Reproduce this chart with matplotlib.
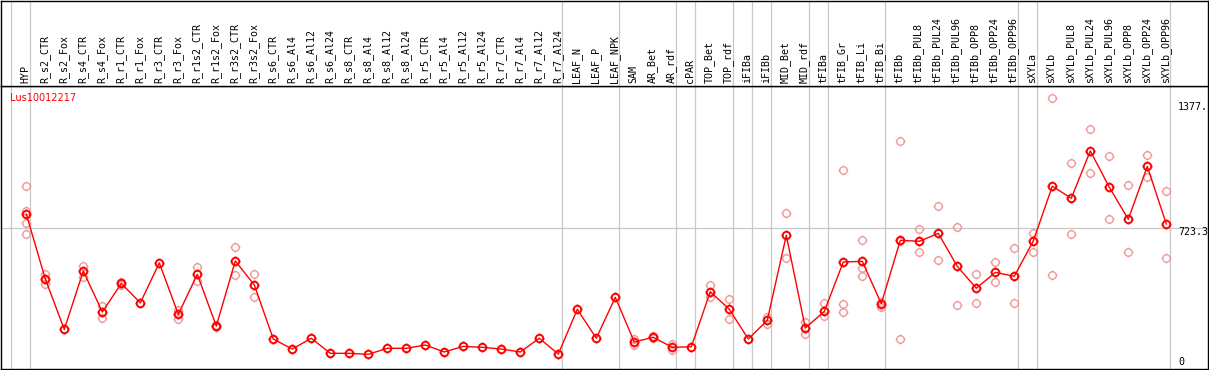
import matplotlib
matplotlib.use("Agg")
import matplotlib.pyplot as plt
from matplotlib.path import Path
import numpy as np

# ---------------- data ----------------
gene = "Lus10012217"
samples = ["HYP", "R_s2_CTR", "R_s2_Fox", "R_s4_CTR", "R_s4_Fox", "R_r1_CTR", "R_r1_Fox",
           "R_r3_CTR", "R_r3_Fox", "R_r1s2_CTR", "R_r1s2_Fox", "R_r3s2_CTR", "R_r3s2_Fox",
           "R_s6_CTR", "R_s6_Al4", "R_s6_Al12", "R_s6_Al24", "R_s8_CTR", "R_s8_Al4",
           "R_s8_Al12", "R_s8_Al24", "R_r5_CTR", "R_r5_Al4", "R_r5_Al12", "R_r5_Al24",
           "R_r7_CTR", "R_r7_Al4", "R_r7_Al12", "R_r7_Al24", "LEAF_N", "LEAF_P", "LEAF_NPK",
           "SAM", "AR_Bet", "AR_rdf", "cPAR", "TOP_Bet", "TOP_rdf", "iFIBa", "iFIBb",
           "MID_Bet", "MID_rdf", "tFIBa", "tFIB_Gr", "tFIB_Li", "tFIB_Bi", "tFIBb",
           "tFIBb_PUL8", "tFIBb_PUL24", "tFIBb_PUL96", "tFIBb_OPP8", "tFIBb_OPP24",
           "tFIBb_OPP96", "sXYLa", "sXYLb", "sXYLb_PUL8", "sXYLb_PUL24", "sXYLb_PUL96",
           "sXYLb_OPP8", "sXYLb_OPP24", "sXYLb_OPP96"]

means = [797, 461, 200, 502, 290, 438, 337, 544, 278, 485, 217, 554, 430,
         150, 98, 154, 76, 76, 71, 102, 102, 119, 83, 112, 107, 98, 83, 154, 72,
         304, 154, 366, 135, 159, 107, 110, 395, 304, 150, 247, 687, 207, 293,
         549, 552, 333, 661, 656, 697, 526, 413, 495, 475, 658, 941, 879, 1124,
         936, 770, 1044, 746]

replicates = [[942, 813, 749, 692], [485, 433], [], [528, 473], [321, 257], [447, 430], [],
              [], [300, 255], [523, 452], [222, 212], [626, 481], [485, 366],
              [], [], [], [], [], [], [], [], [], [], [], [], [], [], [], [],
              [], [], [], [150, 119], [164, 154], [126, 92], [], [430, 366], [356, 252],
              [], [266, 228], [801, 568], [238, 174], [335, 269],
              [1023, 330, 288], [661, 516, 475], [343, 317], [1175, 658, 150],
              [718, 599], [837, 558], [728, 325], [485, 335], [549, 444], [620, 335],
              [697, 599], [1396, 482], [1060, 692], [1236, 1008], [1096, 770],
              [946, 599], [1103, 987], [916, 568]]

group_ends = [-1, 0, 28, 31, 34, 35, 37, 38, 39, 41, 42, 45, 52, 53, 60]
axis_labels = ["1377.", "723.3", "0"]

# ---------------- layout ----------------
W, H = 1209, 370
fig = plt.figure(figsize=(W / 100, H / 100), dpi=100)
mono = "DejaVu Sans Mono"

left_px, right_px = 1.0, 1208.0
top_px, sep_px, bot_px = 0.5, 85.7, 369.0
ax = fig.add_axes([left_px / W, (H - bot_px) / H, (right_px - left_px) / W, (bot_px - sep_px) / H])
axt = fig.add_axes([left_px / W, (H - sep_px) / H, (right_px - left_px) / W, (sep_px - top_px) / H],
                   sharex=ax)

x0, step = 26.3, 19.0
ax.set_xlim((left_px - x0) / step, (right_px - x0) / step)
scale = 0.19314
ax.set_ylim((368 - bot_px) / scale, (368 - sep_px) / scale)
axt.set_ylim(0, 1)

for a in (ax, axt):
    a.set_xticks([])
    a.set_yticks([])
    for s in a.spines.values():
        s.set_linewidth(1.0)
        s.set_color("black")

x = np.arange(len(samples))

# separators
for g in group_ends:
    for a in (ax, axt):
        a.axvline(g + 0.2, color="#c8c8c8", lw=0.9, zorder=1)
ax.axhline(723.3, color="#c8c8c8", lw=0.9, zorder=1)

# marker: circle with four short outer ticks
circ = Path.unit_circle()
ticks = []
for dx, dy in [(0, 1), (0, -1), (1, 0), (-1, 0)]:
    ticks.append(Path([(dx * 1.0, dy * 1.0), (dx * 1.3, dy * 1.3)], [Path.MOVETO, Path.LINETO]))
mk = Path.make_compound_path(circ, *ticks)

# replicates
rx, ry = [], []
for i, reps in enumerate(replicates):
    for v in reps:
        rx.append(i)
        ry.append(v)
ax.plot(rx, ry, linestyle="none", marker=mk, markersize=7.0, markerfacecolor="none",
        markeredgecolor="#f09a9a", markeredgewidth=1.0, zorder=2)

# mean line
ax.plot(x, means, color="red", lw=1.0, marker=mk, markersize=7.0, markerfacecolor="none",
        markeredgecolor="red", markeredgewidth=1.4, zorder=3)

# gene name
ax.text((10 - left_px) / (right_px - left_px), (bot_px - 97.7) / (bot_px - sep_px), gene,
        transform=ax.transAxes, color="red", fontsize=7, family="DejaVu Sans",
        ha="left", va="center")

# right axis labels
lab_y = [106.7, 232.0, 362.0]
for t, yy in zip(axis_labels, lab_y):
    ax.text((1178 - left_px) / (right_px - left_px), (bot_px - yy) / (bot_px - sep_px), t,
            transform=ax.transAxes, fontsize=7.2, family=mono, ha="left", va="center",
            color="black")

# sample labels
ylab = (sep_px - 83.3) / (sep_px - top_px)
for i, s in enumerate(samples):
    axt.text(i - 0.05, ylab, s, rotation=90, ha="center", va="bottom",
             fontsize=7.2, family=mono, color="black")

fig.savefig("out.png", dpi=100)
